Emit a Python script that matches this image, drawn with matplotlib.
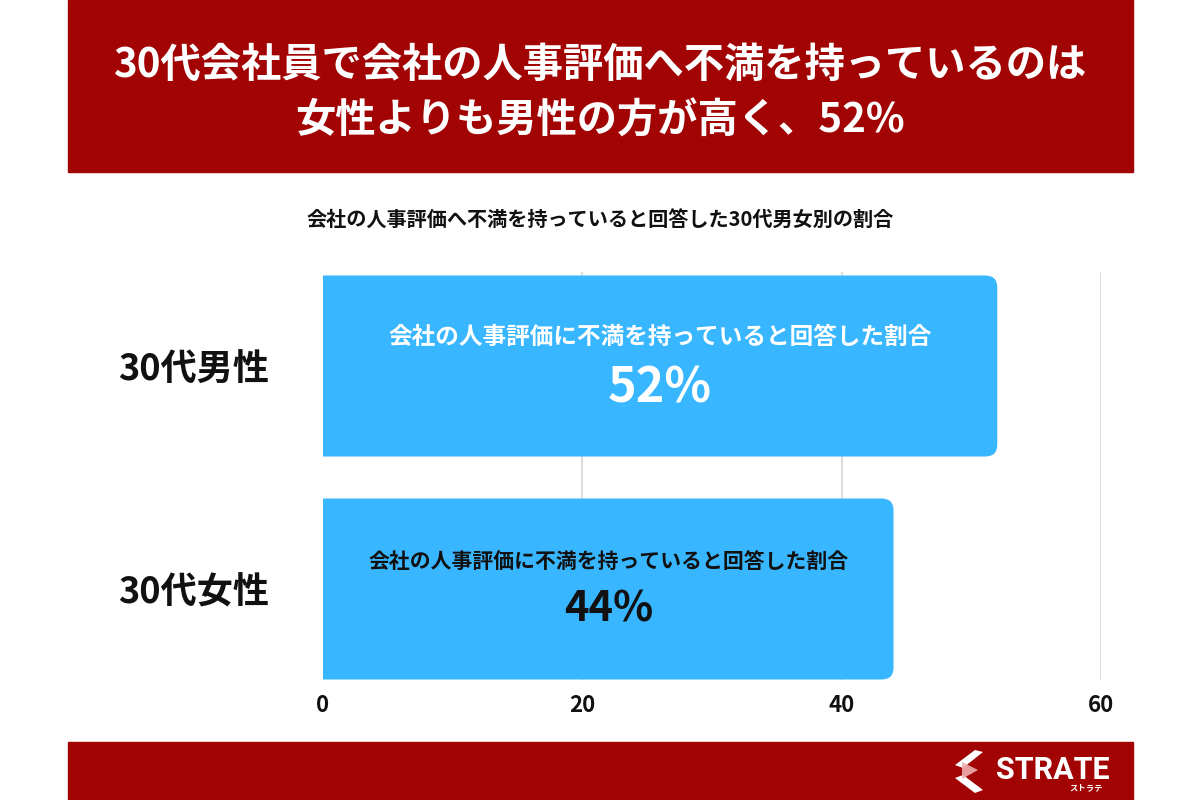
import matplotlib.pyplot as plt
from matplotlib.patches import PathPatch, Rectangle, Polygon
from matplotlib.path import Path

plt.rcParams["font.family"] = ["Noto Sans CJK JP", "DejaVu Sans"]

title = "30代会社員で会社の人事評価へ不満を持っているのは\n女性よりも男性の方が高く、52%"
subtitle = "会社の人事評価へ不満を持っていると回答した30代男女別の割合"
categories = ["30代男性", "30代女性"]
values = [52, 44]
bar_caption = "会社の人事評価に不満を持っていると回答した割合"
xticks = [0, 20, 40, 60]

RED = "#a20404"
BLUE = "#38b6ff"
W, H = 1200, 800

fig = plt.figure(figsize=(12, 8), dpi=100)
fig.patch.set_facecolor("white")


def fx(px):
    return px / W


def fy(py):
    return 1 - py / H


def right_rounded_bar(x0, y0, w, h, rx, ry):
    """Bar with square left corners and rounded right corners (data units)."""
    x1, y1 = x0 + w, y0 + h
    verts = [(x0, y0), (x1 - rx, y0), (x1, y0), (x1, y0 + ry),
             (x1, y1 - ry), (x1, y1), (x1 - rx, y1), (x0, y1), (x0, y0)]
    codes = [Path.MOVETO, Path.LINETO, Path.CURVE3, Path.CURVE3,
             Path.LINETO, Path.CURVE3, Path.CURVE3, Path.LINETO, Path.CLOSEPOLY]
    return Path(verts, codes)


# header and footer bands
fig.patches.append(Rectangle((fx(68), fy(172)), fx(1133 - 68), 172 / H,
                             transform=fig.transFigure, color=RED, zorder=0))
fig.patches.append(Rectangle((fx(68), 0), fx(1133 - 68), 58 / H,
                             transform=fig.transFigure, color=RED, zorder=0))
fig.text(0.5, fy(93), title, ha="center", va="center", color="white",
         fontsize=29, fontweight="bold", linespacing=1.45)
fig.text(0.5, fy(220), subtitle, ha="center", va="center", color="#111111",
         fontsize=14.5, fontweight="bold")

# main axes: x from 323px to 1101px, y from 272px to 680px
ax = fig.add_axes([fx(323), fy(680), fx(1101 - 323), (680 - 272) / H])
px_per_x = (1101 - 323) / 60
centers = [0, 1]
unit_px = 589 - 366
bar_h = 181 / unit_px
top_lim = -(366 - 272) / unit_px
bot_lim = 1 + (680 - 589) / unit_px
ax.set_xlim(0, 60)
ax.set_ylim(bot_lim, top_lim)

for x in xticks[1:]:
    ax.axvline(x, color="#dddddd", lw=1.5, zorder=0)

r_x = 12 / px_per_x
r_y = 12 / unit_px
for c, v in zip(centers, values):
    ax.add_patch(PathPatch(right_rounded_bar(0, c - bar_h / 2, v, bar_h, r_x, r_y),
                           fc=BLUE, ec="none", zorder=2))

# in-bar labels
ax.text(values[0] / 2, centers[0] - 0.13, bar_caption, ha="center", va="center",
        color="white", fontsize=17, fontweight="bold", zorder=3)
ax.text(values[0] / 2, centers[0] + 0.10, f"{values[0]}%", ha="center", va="center",
        color="white", fontsize=35, fontweight="bold", zorder=3)
ax.text(values[1] / 2, centers[1] - 0.12, bar_caption, ha="center", va="center",
        color="#111111", fontsize=15, fontweight="bold", zorder=3)
ax.text(values[1] / 2, centers[1] + 0.09, f"{values[1]}%", ha="center", va="center",
        color="#111111", fontsize=30, fontweight="bold", zorder=3)

ax.set_yticks(centers)
ax.set_yticklabels(categories, fontsize=26, fontweight="bold", color="#111111")
ax.set_xticks(xticks)
ax.set_xticklabels([str(t) for t in xticks], fontsize=16, fontweight="bold",
                   color="#111111")
ax.tick_params(axis="x", length=0, pad=10)
ax.tick_params(axis="y", length=0, pad=39)
for s in ax.spines.values():
    s.set_visible(False)
ax.set_facecolor("none")

# footer logo
fig.text(fx(1053), fy(770), "STRATE", ha="center", va="center", color="white",
         fontsize=22, fontweight="bold", family=["Roboto", "DejaVu Sans"])
fig.text(fx(1086), fy(788), "ストラテ", ha="center", va="center", color="white",
         fontsize=6, fontweight="bold")
icon_top = [(955, 765), (975, 750), (983, 752), (963, 768)]
icon_bot = [(963, 775), (983, 790), (975, 793), (955, 778)]
icon_mid = [(962, 762), (978, 770), (962, 779)]
for pts, col, a in [(icon_top, "white", 1), (icon_bot, "white", 1),
                    (icon_mid, "#f0b0b0", 0.9)]:
    fig.patches.append(Polygon([(fx(p), fy(q)) for p, q in pts], closed=True,
                               transform=fig.transFigure, fc=col, ec="none", alpha=a))

fig.savefig("out.png", dpi=100)
